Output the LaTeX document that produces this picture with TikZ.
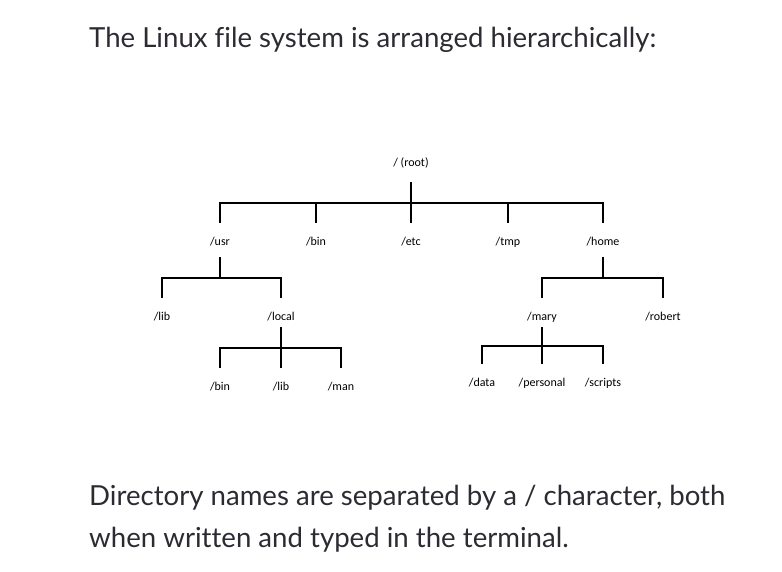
\documentclass[tikz,border=0pt]{standalone}
\usepackage{fontspec}
\setmainfont{Lato}[Ligatures=NoCommon]
\newfontfamily\treefont{Carlito}
\definecolor{bodytext}{RGB}{45,42,50}
\tikzset{
  dirname/.style={font=\treefont\fontsize{12}{14}\selectfont, inner sep=0pt, minimum height=38pt},
  branch/.style={line width=1.8pt, black},
  prose/.style={font=\fontsize{27.6}{32}\selectfont, text=bodytext, inner sep=0pt, anchor=base west}
}
\begin{document}
\begin{tikzpicture}[x=1pt,y=-1pt]
	\useasboundingbox (0,0) rectangle (782,572);
	\node[prose] (title) at (89,48) {The Linux file system is arranged hierarchically:};
	
	% first level
	\node[dirname] (root) at (411,163) {/ (root)};
	\node[dirname] (usr) at (220,242) {/usr};
	\node[dirname] (bin) at (316,242) {/bin};
	\node[dirname] (etc) at (411,242) {/etc};
	\node[dirname] (tmp) at (508,242) {/tmp};
	\node[dirname] (home) at (603,242) {/home};
	\coordinate (rootbar) at (411,203);
	\draw[branch] (root.south) -- (rootbar);
	\foreach \d in {usr,bin,etc,tmp,home}
		\draw[branch] (rootbar) -| (\d.north);
	
	% under /usr
	\node[dirname] (usrlib) at (162,317) {/lib};
	\node[dirname] (local) at (281,317) {/local};
	\coordinate (usrbar) at (220,278);
	\draw[branch] ([yshift=4pt]usr.south) -- (usrbar);
	\foreach \d in {usrlib,local}
		\draw[branch] (usrbar) -| (\d.north);
	
	\node[dirname] (localbin) at (220,387) {/bin};
	\node[dirname] (locallib) at (281,387) {/lib};
	\node[dirname] (localman) at (341,387) {/man};
	\coordinate (localbar) at (281,348);
	\draw[branch] ([yshift=9pt]local.south) -- (localbar);
	\foreach \d in {localbin,locallib,localman}
		\draw[branch] (localbar) -| (\d.north);
	
	% under /home
	\node[dirname] (mary) at (542,317) {/mary};
	\node[dirname] (robert) at (663,317) {/robert};
	\coordinate (homebar) at (603,278);
	\draw[branch] ([yshift=4pt]home.south) -- (homebar);
	\foreach \d in {mary,robert}
		\draw[branch] (homebar) -| (\d.north);
	
	\node[dirname] (data) at (482,383) {/data};
	\node[dirname] (personal) at (542,383) {/personal};
	\node[dirname] (scripts) at (603,383) {/scripts};
	\coordinate (marybar) at (542,346);
	\draw[branch] ([yshift=9pt]mary.south) -- (marybar);
	\foreach \d in {data,personal,scripts}
		\draw[branch] (marybar) -| (\d.north);
	
	\node[prose] (note1) at (89,505) {Directory names are separated by a / character, both};
	\node[prose] (note2) at (89,547) {when written and typed in the terminal.};
\end{tikzpicture}
\end{document}
